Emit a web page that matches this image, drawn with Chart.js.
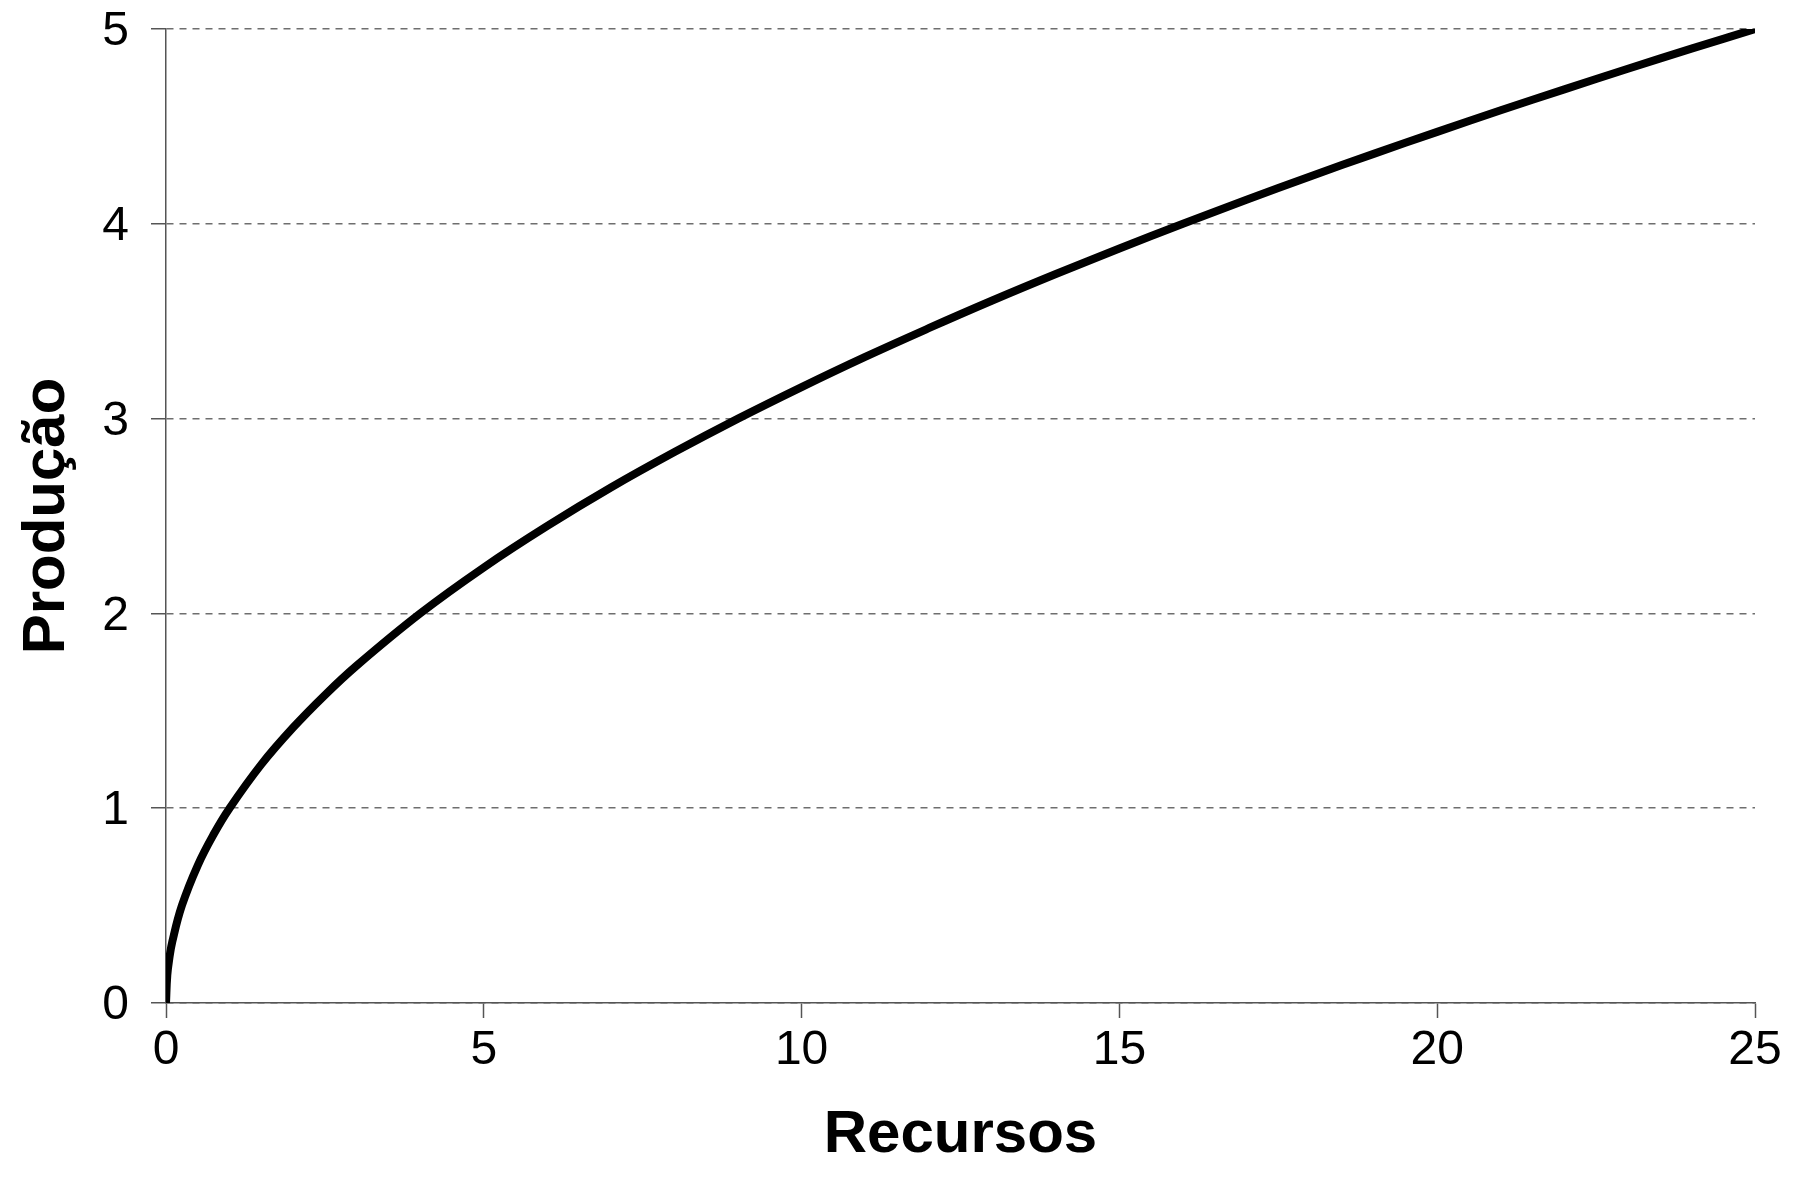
<!DOCTYPE html>
<html>
<head>
<meta charset="utf-8">
<script src="https://cdn.jsdelivr.net/npm/chart.js@4/dist/chart.umd.min.js"></script>
<style>
  html, body { margin: 0; padding: 0; background: #ffffff; }
  canvas { display: block; }
</style>
</head>
<body>
<canvas id="line-chart" width="1798" height="1199"></canvas>
<script>
// values
var recursos = [0, 0.02, 0.05, 0.1, 0.25, 0.5, 0.75, 1, 1.5, 2, 2.5, 3, 4, 5, 6, 7, 8, 9, 10, 11, 12, 13, 14, 15, 16, 17, 18, 19, 20, 21, 22, 23, 24, 25];
var producao = [0, 0.141, 0.224, 0.316, 0.5, 0.707, 0.866, 1.0, 1.225, 1.414, 1.581, 1.732, 2.0, 2.236, 2.449, 2.646, 2.828, 3.0, 3.162, 3.317, 3.464, 3.606, 3.742, 3.873, 4.0, 4.123, 4.243, 4.359, 4.472, 4.583, 4.69, 4.796, 4.899, 5.0];
var xTicks = [0, 5, 10, 15, 20, 25];
var yTicks = [0, 1, 2, 3, 4, 5];
var xTitle = "Recursos";
var yTitle = "Produção";

var points = [];
for (var index = 0; index < recursos.length; index++) {
    points.push({ x: recursos[index], y: producao[index] });
}

var FONT = "'Liberation Sans', Arial, sans-serif";
var canvas = document.getElementById("line-chart");
var ctx = canvas.getContext('2d');
var chart = new Chart(ctx, {
    type: 'line',
    data: {
        datasets: [{
            data: points,
            borderColor: '#000000',
            borderWidth: 8,
            pointRadius: 0,
            fill: false,
            tension: 0.4
        }]
    },
    options: {
        responsive: false,
        animation: false,
        devicePixelRatio: 1,
        layout: {
            autoPadding: false,
            padding: { top: 29, right: 43, left: 0, bottom: 0 }
        },
        plugins: {
            legend: { display: false },
            tooltip: { enabled: false }
        },
        scales: {
            x: {
                type: 'linear',
                min: 0,
                max: 25,
                afterFit: function (scale) {
                    scale.height = 196;
                    scale.paddingLeft = 0;
                    scale.paddingRight = 0;
                },
                afterBuildTicks: function (scale) {
                    scale.ticks = xTicks.map(function (v) { return { value: v }; });
                },
                grid: {
                    drawOnChartArea: false,
                    drawTicks: true,
                    tickLength: 15,
                    tickColor: '#555555',
                    tickWidth: 1.5
                },
                border: { display: true, color: '#555555', width: 1.5 },
                ticks: {
                    color: '#000000',
                    padding: 4,
                    maxRotation: 0,
                    font: { family: FONT, size: 48 }
                },
                title: {
                    display: true,
                    text: xTitle,
                    color: '#000000',
                    font: { family: FONT, size: 60, weight: 'bold' },
                    padding: { top: 0, bottom: 28 }
                }
            },
            y: {
                type: 'linear',
                min: 0,
                max: 5,
                afterFit: function (scale) {
                    scale.width = 166;
                    scale.paddingTop = 0;
                    scale.paddingBottom = 0;
                },
                afterBuildTicks: function (scale) {
                    scale.ticks = yTicks.map(function (v) { return { value: v }; });
                },
                grid: {
                    color: '#6e6e6e',
                    lineWidth: 1.5,
                    drawTicks: true,
                    tickLength: 15,
                    tickColor: '#555555',
                    tickWidth: 1.5
                },
                border: { display: true, color: '#555555', width: 1.5, dash: [7, 6] },
                ticks: {
                    color: '#000000',
                    padding: 22,
                    labelOffset: 3,
                    font: { family: FONT, size: 48 }
                },
                title: {
                    display: true,
                    text: yTitle,
                    color: '#000000',
                    font: { family: FONT, size: 60, weight: 'bold' },
                    padding: { top: 11, bottom: 0 }
                }
            }
        }
    }
});
</script>
</body>
</html>
